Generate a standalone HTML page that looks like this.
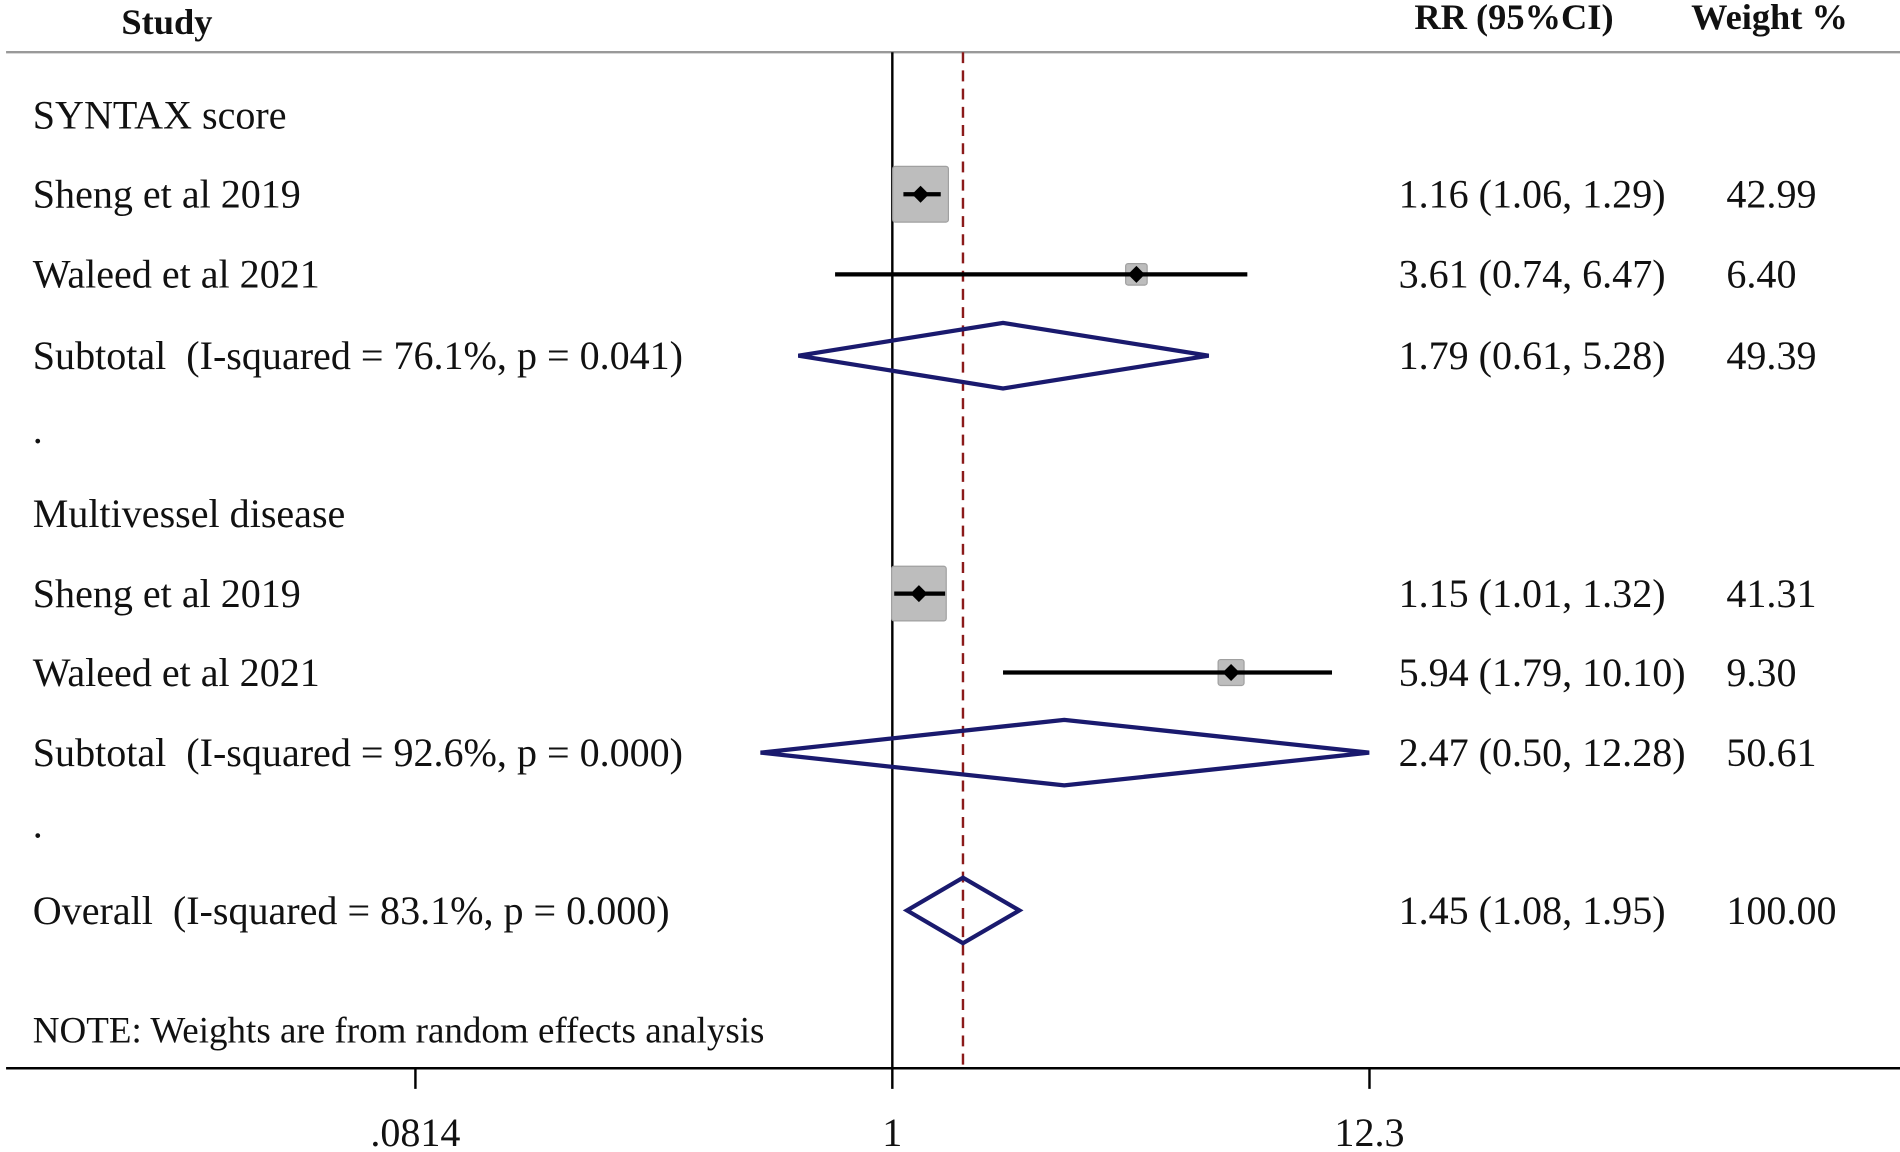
<!DOCTYPE html>
<html><head><meta charset="utf-8"><style>
html,body{margin:0;padding:0;background:#fff}
svg{display:block}
text{font-family:"Liberation Serif",serif;font-size:33px;fill:#111;white-space:pre}
.hd{font-weight:bold;font-size:30px}
</style></head><body>
<svg id="plot" width="1900" height="1152" viewBox="0 0 1565 949" preserveAspectRatio="none" xmlns="http://www.w3.org/2000/svg">
<text class="hd" x="100" y="28">Study</text>
<text class="hd" x="1165" y="24">RR (95%CI)</text>
<text class="hd" x="1393" y="24">Weight %</text>
<line x1="5" y1="43" x2="1565" y2="43" stroke="#999" stroke-width="2"/>
<g id="rows"></g>
<text x="27" y="859" style="font-size:30.5px">NOTE: Weights are from random effects analysis</text>
<line x1="5" y1="880" x2="1565" y2="880" stroke="#000" stroke-width="2"/>
<g id="axis"></g>
</svg>
<script>
const labels=["SYNTAX score","Sheng et al 2019","Waleed et al 2021","Subtotal  (I-squared = 76.1%, p = 0.041)",".","Multivessel disease","Sheng et al 2019","Waleed et al 2021","Subtotal  (I-squared = 92.6%, p = 0.000)",".","Overall  (I-squared = 83.1%, p = 0.000)"];
const kinds=["head","study","study","sub","blank","head","study","study","sub","blank","sub"];
const rr=[null,1.16,3.61,1.79,null,null,1.15,5.94,2.47,null,1.45];
const lo=[null,1.06,0.74,0.61,null,null,1.01,1.79,0.50,null,1.08];
const hi=[null,1.29,6.47,5.28,null,null,1.32,10.10,12.28,null,1.95];
const weights=[null,42.99,6.40,49.39,null,null,41.31,9.30,50.61,null,100.00];
const rrText=["","1.16 (1.06, 1.29)","3.61 (0.74, 6.47)","1.79 (0.61, 5.28)","","","1.15 (1.01, 1.32)","5.94 (1.79, 10.10)","2.47 (0.50, 12.28)","","1.45 (1.08, 1.95)"];
const wText=["","42.99","6.40","49.39","","","41.31","9.30","50.61","","100.00"];
const ticks=[0.0814,1,12.3];
const tickLabels=[".0814","1","12.3"];
const overall=1.45;
const rowY=[95,160,226,293,365,423,489,554,620,690,750];
const NS="http://www.w3.org/2000/svg";
const x=v=>735+360.6*Math.log10(v);
const rows=document.getElementById('rows');
function mk(t,a,p){const e=document.createElementNS(NS,t);for(const k in a)e.setAttribute(k,a[k]);(p||rows).appendChild(e);return e;}
let l=mk('line',{x1:735,y1:43,x2:735,y2:880,stroke:'#000','stroke-width':2});


l=mk('line',{x1:x(overall),y1:43,x2:x(overall),y2:880,stroke:'#8b1a1a','stroke-width':2,'stroke-dasharray':'9,6'});


labels.forEach((s,i)=>{
  const y=rowY[i];
  const t=mk('text',{x:27,y:y+11});t.textContent=s;
  if(s==='.')t.setAttribute('y',y);
  
  
  if(rrText[i]){
    const a=mk('text',{x:1152,y:y+11});a.textContent=rrText[i];
    
    
    const b=mk('text',{x:1422,y:y+11});b.textContent=wText[i];
    
    
  }
  if(kinds[i]==='study'){
    const s2=7.0*Math.sqrt(weights[i]);
    const bx=mk('rect',{x:x(rr[i])-s2/2,y:y-s2/2,width:s2,height:s2,fill:'#bdbdbd',stroke:'#a0a0a0',rx:2});
    
    
    const ci=mk('line',{x1:x(lo[i]),y1:y,x2:x(hi[i]),y2:y,stroke:'#000','stroke-width':3.5});
    
    
    const c=x(rr[i]);
    const d=mk('polygon',{points:`${c-7},${y} ${c},${y-7} ${c+7},${y} ${c},${y+7}`,fill:'#000'});
    
    
  }else if(kinds[i]==='sub'){
    const h=27,c=x(rr[i]);
    const d=mk('polygon',{points:`${x(lo[i])},${y} ${c},${y-h} ${x(hi[i])},${y} ${c},${y+h}`,fill:'none',stroke:'#1a1a6e','stroke-width':3.5});
    
    
  }
});
const ax=document.getElementById('axis');
ticks.forEach((v,i)=>{
  const tl=mk('line',{x1:x(v),y1:880,x2:x(v),y2:897,stroke:'#000','stroke-width':2},ax);
  
  
  const t=mk('text',{x:x(v),y:944,'text-anchor':'middle'},ax);t.textContent=tickLabels[i];
  
  
});
</script>
</body></html>
